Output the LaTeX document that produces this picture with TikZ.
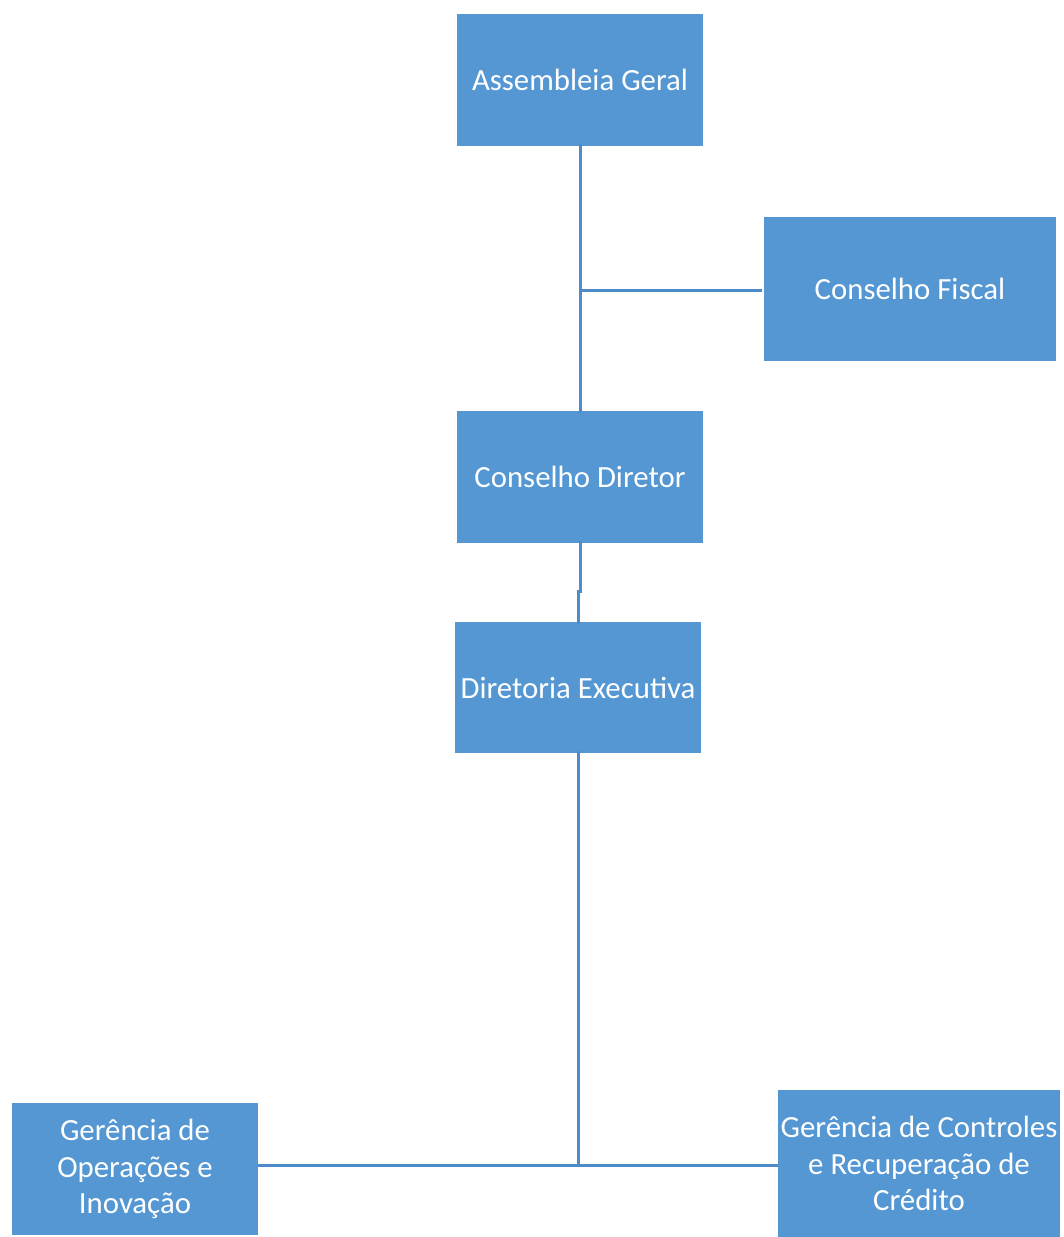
\documentclass[tikz,border=0pt]{standalone}
\usepackage{fontspec}
\setmainfont{Carlito}
\definecolor{boxblue}{HTML}{5497D3}
\definecolor{lineblue}{HTML}{4D8BCA}
\begin{document}
\begin{tikzpicture}[x=1pt,y=-1pt,
  orgbox/.style={fill=boxblue,draw=none,text=white,inner sep=0pt,align=center,
    font=\fontsize{30.8}{36.5}\selectfont},
  link/.style={draw=lineblue,line width=3pt}]
\useasboundingbox (0,0) rectangle (1063,1237);
\node[orgbox,minimum width=246pt,minimum height=132pt] (ag) at (580,80) {Assembleia Geral};
\node[orgbox,minimum width=292pt,minimum height=144pt] (cf) at (910,289) {Conselho Fiscal};
\node[orgbox,minimum width=246pt,minimum height=132pt] (cd) at (580,477) {Conselho Diretor};
\node[orgbox,minimum width=246pt,minimum height=131pt] (de) at (578,687.5) {Diretoria Executiva};
\node[orgbox,minimum width=246pt,minimum height=132pt] (go) at (135,1169) {Gerência de\\Operações e\\Inovação};
\node[orgbox,minimum width=282pt,minimum height=147pt] (gc) at (919,1163.5) {Gerência de Controles\\e Recuperação de\\Crédito};
\coordinate (j1) at (580,290);
\coordinate (j2) at (580,591);
\coordinate (j3) at (578,1165);
\draw[link] ([yshift=2pt]ag.south) -- ([yshift=-2pt]cd.north);
\draw[link] (j1) -- ([xshift=-2pt]cf.west |- j1);
\draw[link] ([yshift=2pt]cd.south) -- (j2) -- (j2 -| de.north) -- ([yshift=-2pt]de.north);
\draw[link] ([yshift=2pt]de.south) -- (j3);
\draw[link] (go.east |- j3) -- (gc.west |- j3);
\end{tikzpicture}
\end{document}
